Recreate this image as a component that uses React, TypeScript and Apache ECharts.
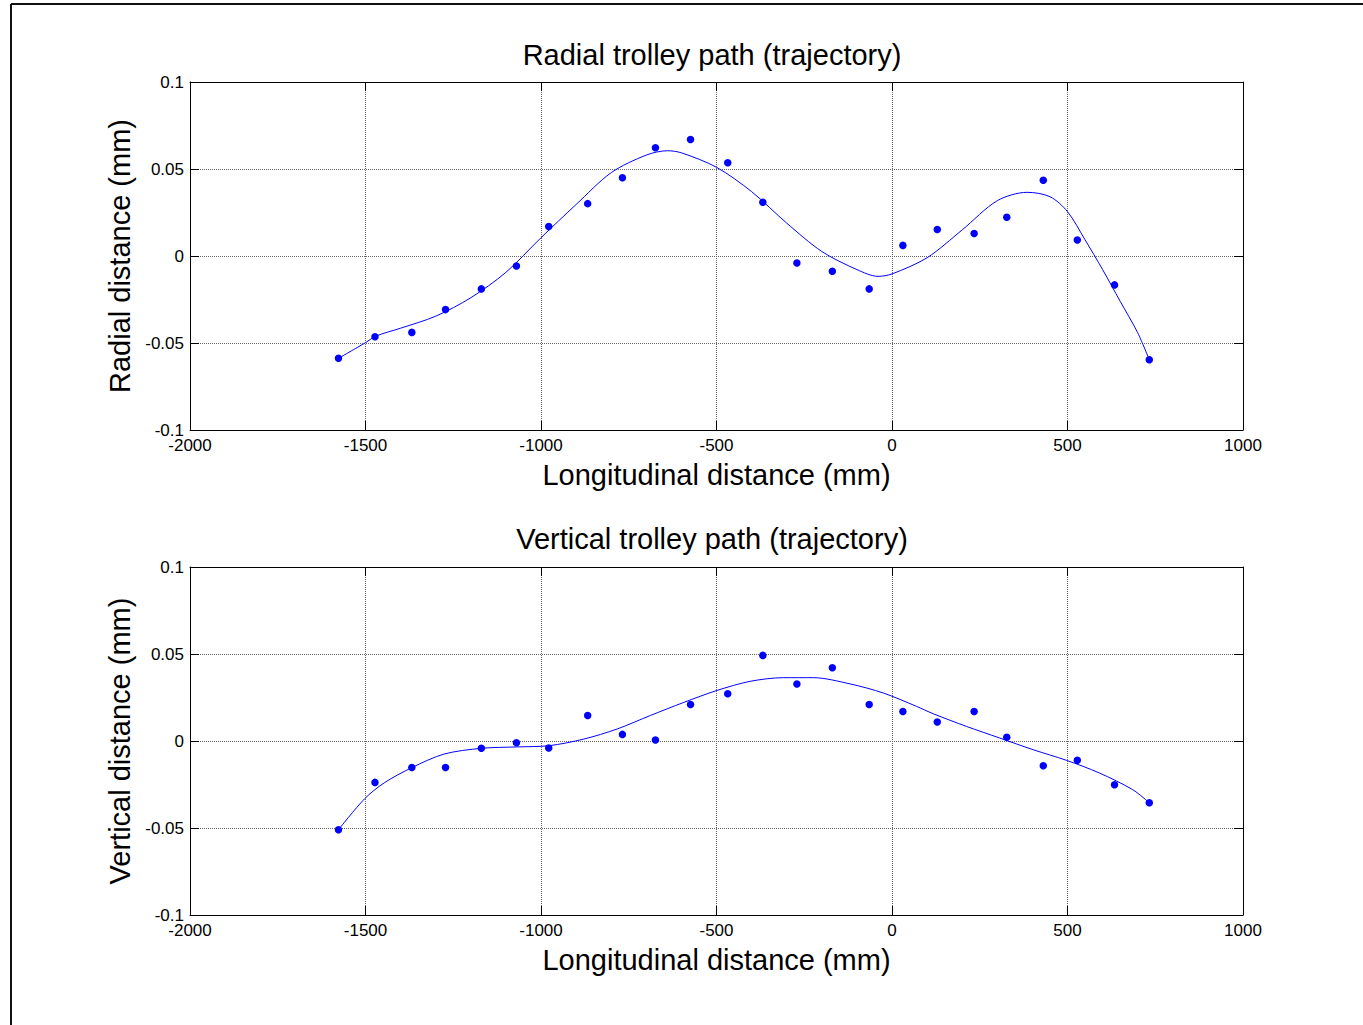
import React, { useEffect, useRef } from "react";
import * as echarts from "echarts";

// ---- Data ----
const xTicks = [-2000, -1500, -1000, -500, 0, 500, 1000];
const yTicks = [-0.1, -0.05, 0, 0.05, 0.1];

const pointX = [-1577, -1473, -1368, -1272, -1170, -1070, -978, -867, -768, -674, -574, -468, -368, -271, -170, -65, 31, 129, 234, 327, 431, 528, 634, 733];

const radialY = [-0.0588, -0.0464, -0.0439, -0.0308, -0.0189, -0.0057, 0.017, 0.0301, 0.045, 0.0622, 0.067, 0.0536, 0.0309, -0.004, -0.0088, -0.0189, 0.0061, 0.0152, 0.0129, 0.0223, 0.0435, 0.0092, -0.0166, -0.0596];

const verticalY = [-0.051, -0.0238, -0.0152, -0.0152, -0.0042, -0.001, -0.004, 0.0147, 0.0038, 0.0006, 0.021, 0.0272, 0.0492, 0.0328, 0.0421, 0.021, 0.017, 0.0109, 0.017, 0.0021, -0.0142, -0.0111, -0.0251, -0.0355];

const radialFitX = [-1577, -1500, -1470, -1400, -1300, -1200, -1100, -1000, -900, -800, -700, -640, -600, -500, -400, -300, -200, -100, -40, 0, 100, 200, 300, 385, 450, 500, 550, 600, 650, 700, 733];
const radialFitY = [-0.0588, -0.0498, -0.046, -0.0415, -0.0346, -0.024, -0.0094, 0.0105, 0.0296, 0.0479, 0.058, 0.0605, 0.0593, 0.051, 0.037, 0.0189, 0.0026, -0.0078, -0.0117, -0.0103, -0.001, 0.015, 0.0318, 0.0366, 0.0341, 0.0255, 0.0093, -0.0078, -0.026, -0.0441, -0.0596];

const verticalFitX = [-1577, -1503, -1447, -1367, -1276, -1170, -1067, -977, -878, -783, -688, -593, -498, -404, -309, -224, -119, -25, 70, 117, 212, 307, 402, 497, 591, 686, 733];
const verticalFitY = [-0.051, -0.0333, -0.0241, -0.0152, -0.0075, -0.0042, -0.0034, -0.0027, 0.0011, 0.0069, 0.0147, 0.0222, 0.0291, 0.0343, 0.0364, 0.0364, 0.0328, 0.0276, 0.0199, 0.0157, 0.0084, 0.0017, -0.005, -0.0111, -0.0184, -0.028, -0.0355];

const titles = ["Radial trolley path (trajectory)", "Vertical trolley path (trajectory)"];
const yNames = ["Radial distance (mm)", "Vertical distance (mm)"];
const xName = "Longitudinal distance (mm)";

const FONT = "'Liberation Sans', Arial, sans-serif";
const BLUE = "#0000ff";

const zip = (xs: number[], ys: number[]) => xs.map((x, i) => [x, ys[i]]);
const fmt = (v: number) => String(Number(v.toFixed(4)));

export default function App() {
  const ref = useRef<HTMLDivElement>(null);

  useEffect(() => {
    if (!ref.current) return;
    const chart = echarts.init(ref.current, undefined, { renderer: "svg" });

    const grids = [
      { left: 190, right: 120, top: 82, height: 348 },
      { left: 190, right: 120, top: 567, height: 348 },
    ];

    const xInterval = xTicks[1] - xTicks[0];
    const yInterval = yTicks[1] - yTicks[0];

    const tick = { show: true, inside: true, length: 9, lineStyle: { color: "#000", width: 1 } };
    const line = { show: true, onZero: false, lineStyle: { color: "#000", width: 1 } };
    const grid = { show: true, lineStyle: { type: "dotted", color: "#666", width: 1 } };

    const xAxes: any[] = [];
    const yAxes: any[] = [];
    grids.forEach((_, gi) => {
      xAxes.push({
        type: "value",
        gridIndex: gi,
        min: xTicks[0],
        max: xTicks[xTicks.length - 1],
        interval: xInterval,
        position: "bottom",
        axisLine: line,
        axisTick: tick,
        axisLabel: { margin: 7, fontSize: 17, color: "#000", fontFamily: FONT, formatter: fmt },
        splitLine: grid,
        name: xName,
        nameLocation: "middle",
        nameGap: 30,
        nameTextStyle: { fontSize: 29, color: "#000", fontFamily: FONT },
      });
      xAxes.push({
        type: "value",
        gridIndex: gi,
        min: xTicks[0],
        max: xTicks[xTicks.length - 1],
        interval: xInterval,
        position: "top",
        axisLine: line,
        axisTick: tick,
        axisLabel: { show: false },
        splitLine: { show: false },
      });
      yAxes.push({
        type: "value",
        gridIndex: gi,
        min: yTicks[0],
        max: yTicks[yTicks.length - 1],
        interval: yInterval,
        position: "left",
        axisLine: line,
        axisTick: tick,
        axisLabel: { margin: 6, fontSize: 17, color: "#000", fontFamily: FONT, formatter: fmt },
        splitLine: grid,
        name: yNames[gi],
        nameLocation: "middle",
        nameGap: 55,
        nameTextStyle: { fontSize: 29, color: "#000", fontFamily: FONT },
      });
      yAxes.push({
        type: "value",
        gridIndex: gi,
        min: yTicks[0],
        max: yTicks[yTicks.length - 1],
        interval: yInterval,
        position: "right",
        axisLine: line,
        axisTick: tick,
        axisLabel: { show: false },
        splitLine: { show: false },
      });
    });

    const fitLine = (data: number[][], gi: number) => ({
      type: "line",
      xAxisIndex: gi * 2,
      yAxisIndex: gi * 2,
      data,
      smooth: 0.3,
      showSymbol: false,
      symbol: "none",
      lineStyle: { color: BLUE, width: 1 },
      z: 3,
    });
    const pts = (data: number[][], gi: number) => ({
      type: "scatter",
      xAxisIndex: gi * 2,
      yAxisIndex: gi * 2,
      data,
      symbol: "circle",
      symbolSize: 7.5,
      itemStyle: { color: BLUE, opacity: 1 },
      z: 4,
    });

    chart.setOption({
      animation: false,
      backgroundColor: "#fff",
      title: titles.map((t, i) => ({
        text: t,
        left: 712,
        top: i === 0 ? 40 : 524,
        textAlign: "center",
        padding: 0,
        textStyle: { fontSize: 29, fontWeight: "normal", color: "#000", fontFamily: FONT },
      })),
      grid: grids,
      xAxis: xAxes,
      yAxis: yAxes,
      series: [
        fitLine(zip(radialFitX, radialFitY), 0),
        pts(zip(pointX, radialY), 0),
        fitLine(zip(verticalFitX, verticalFitY), 1),
        pts(zip(pointX, verticalY), 1),
      ],
      graphic: [
        { type: "line", shape: { x1: 11, y1: 4, x2: 1363, y2: 4 }, style: { stroke: "#111", lineWidth: 2 } },
        { type: "line", shape: { x1: 11, y1: 4, x2: 11, y2: 1025 }, style: { stroke: "#111", lineWidth: 2 } },
      ],
    });

    return () => chart.dispose();
  }, []);

  return (
    <div
      ref={ref}
      style={{ position: "fixed", left: 0, top: 0, width: 1363, height: 1025, background: "#fff" }}
    />
  );
}
